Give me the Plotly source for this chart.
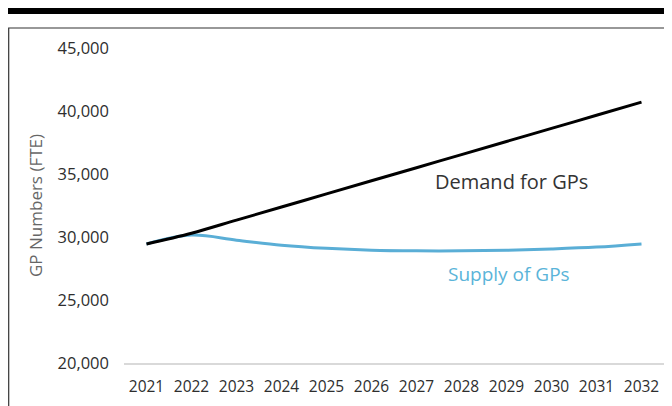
import plotly.graph_objects as go

years = [2021, 2022, 2023, 2024, 2025, 2026, 2027, 2028, 2029, 2030, 2031, 2032]
demand = [29450, 30300, 31340, 32380, 33420, 34460, 35500, 36540, 37580, 38620, 39660, 40700]
supply = [29450, 30150, 29750, 29350, 29100, 28950, 28900, 28900, 28950, 29050, 29200, 29450]

demand_label = "Demand for GPs"
supply_label = "Supply of GPs"
y_title = "GP Numbers (FTE)"

# the page body adds an 8px offset, so the figure is drawn 8px smaller
W, H = 664, 398
L, R, T, B = 116, 8, 40, 43
pw, ph = W - L - R, H - T - B


def px(x):
    return (x - L) / pw


def py(y):
    return (H - B - y) / ph


fig = go.Figure()
fig.add_trace(go.Scatter(x=years, y=supply, mode="lines", name=supply_label,
                         line=dict(color="#5aaed6", width=3, shape="spline"), hoverinfo="skip"))
fig.add_trace(go.Scatter(x=years, y=demand, mode="lines", name=demand_label,
                         line=dict(color="#000000", width=3, shape="spline"), hoverinfo="skip"))

fig.add_annotation(x=2029.1, y=34400, text=demand_label, showarrow=False,
                   xanchor="center", yanchor="middle",
                   font=dict(family="Open Sans", size=20, color="#333333"))
fig.add_annotation(x=2029.05, y=27050, text=supply_label, showarrow=False,
                   xanchor="center", yanchor="middle",
                   font=dict(family="Open Sans", size=19, color="#5ab4d9"))

# top thick bar
fig.add_shape(type="rect", xref="paper", yref="paper",
              x0=px(0), x1=px(W), y0=py(6), y1=py(0),
              fillcolor="#000000", line=dict(width=0), layer="above")
# frame box
fig.add_shape(type="rect", xref="paper", yref="paper",
              x0=px(0.7), x1=px(661), y0=py(410), y1=py(20),
              fillcolor="rgba(0,0,0,0)", line=dict(color="#333333", width=1.2), layer="below")

fig.update_layout(
    width=W, height=H,
    margin=dict(l=L, r=R, t=T, b=B),
    paper_bgcolor="white", plot_bgcolor="white",
    showlegend=False,
    font=dict(family="Open Sans", color="#333333"),
)
fig.update_xaxes(range=[2020.5, 2032.5], tickmode="array", tickvals=years,
                 ticktext=[str(y) for y in years],
                 showgrid=False, showline=True, linecolor="#d9d9d9", linewidth=1.5,
                 ticks="", ticklabelstandoff=9,
                 tickfont=dict(size=15.5, color="#2e2e2e"), zeroline=False)
fig.update_yaxes(range=[20000, 45000], dtick=5000, tickformat=",", showgrid=False, zeroline=False,
                 showline=False, ticks="", ticklabelstandoff=14,
                 tickfont=dict(size=16.5, color="#2e2e2e"),
                 title=dict(text=y_title, font=dict(size=17, color="#666666"), standoff=10))

fig.write_html("out.html")
